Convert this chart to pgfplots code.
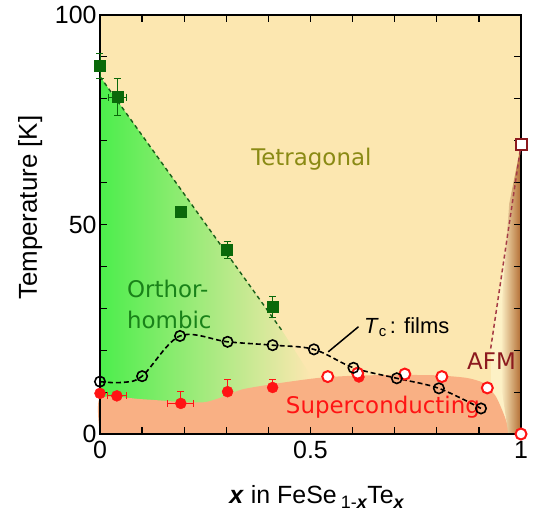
\documentclass[border=0pt]{standalone}
\usepackage{fontspec}
\setmainfont{Liberation Sans}
\newfontfamily\dv{DejaVu Sans}
\usepackage{pgfplots}
\pgfplotsset{compat=1.18}
\definecolor{bgY}{RGB}{252,231,176}
\definecolor{lightY}{RGB}{253,241,198}
\definecolor{salmon}{RGB}{249,176,132}
\definecolor{gL}{RGB}{76,238,76}
\definecolor{gM}{RGB}{150,240,125}
\definecolor{sqG}{RGB}{10,105,10}
\definecolor{dashG}{RGB}{25,95,25}
\definecolor{redM}{RGB}{255,20,20}
\definecolor{afmR}{RGB}{140,25,30}
\definecolor{afmDash}{RGB}{165,60,70}
\definecolor{brownR}{RGB}{178,108,50}
\definecolor{tanC}{RGB}{236,192,125}
\definecolor{oliveT}{RGB}{138,138,20}
\definecolor{orthG}{RGB}{25,130,25}
\pgfplotsset{common/.style={
  scale only axis,
  width=421bp, height=419bp,
  xmin=0, xmax=1, ymin=0, ymax=100,
  clip=false}}
\begin{document}
\begin{tikzpicture}
\begin{axis}[
  common,
  name=ax,
  axis on top,
  axis line style={line width=1.6bp},
  tick style={line width=1.2bp, black},
  tick align=inside,
  major tick length=7bp, minor tick length=7bp,
  xtick={0,0.5,1}, xticklabels={0,0.5,1},
  minor xtick={0.1,0.2,0.3,0.4,0.6,0.7,0.8,0.9},
  ytick={0,50,100}, yticklabels={0,50,100},
  minor ytick={10,20,30,40,60,70,80,90},
  /pgf/number format/assume math mode=true,
  tick label style={font=\fontsize{25}{25}\selectfont},
  xticklabel style={yshift=-4bp},
  ylabel={Temperature [K]},
  ylabel style={font=\fontsize{26}{26}\selectfont, at={(axis description cs:-0.166,0.54)}, rotate=0, anchor=center},
  xlabel={\textbf{\textit{x}} in FeSe\,\raisebox{-5bp}{\fontsize{18}{18}\selectfont 1-\textbf{\textit{x}}}Te\raisebox{-5bp}{\fontsize{18}{18}\selectfont\textbf{\textit{x}}}},
  xlabel style={font=\fontsize{25}{25}\selectfont, at={(axis description cs:0.515,-0.165)}, anchor=base},
]
% background regions
\addplot[draw=none, fill=bgY] coordinates {(0,0) (1,0) (1,100) (0,100)};
\addplot[draw=none, left color=gL, middle color=gM, right color=bgY] coordinates {(0,85.3) (0.435,24.3) (0.5,14) (0.5,0) (0,0)};
\addplot[draw=none, fill=lightY] coordinates {(0.928,20.4) (1,69) (1,0) (0.93,0)};
\addplot[draw=none, fill=salmon, smooth, tension=0.4] coordinates {
 (0,0) (0,8.6) (0.1,8.3) (0.2,7.6) (0.25,7.6) (0.29,8.8) (0.34,10.7) (0.43,12.2) (0.52,13.4) (0.6,13.9) (0.7,14.1) (0.8,14.0) (0.87,13.4) (0.91,12.2) (0.94,9.0) (0.96,4.5) (0.975,0)};
\addplot[draw=none, left color=lightY, middle color=tanC, right color=brownR] coordinates {(0.97,0) (0.952,12) (0.955,32) (0.972,55) (1,69) (1,0)};
\end{axis}
\begin{axis}[common, hide axis]
% boundary lines
\addplot[dashG, line width=1.4bp, dash pattern=on 4bp off 3.5bp] coordinates {(0,85.3) (0.435,24.3)};
\addplot[afmDash, line width=1.5bp, dash pattern=on 4bp off 3bp] coordinates {(0.928,20.4) (1,69)};
% Tc films curve
\addplot[black, line width=1.6bp, dash pattern=on 5bp off 3bp, smooth, tension=0.55] coordinates {
 (0,12.5) (0.05,12.3) (0.10,13.8) (0.19,23.4) (0.303,22.0) (0.41,21.2) (0.508,20.2) (0.602,15.8) (0.705,13.3) (0.805,10.9) (0.905,6.1)};
% green squares
\addplot[only marks, mark=square*, mark size=5.5bp, color=sqG,
  error bars/.cd, x dir=both, x explicit, y dir=both, y explicit,
  error bar style={line width=1bp, sqG}, error mark options={rotate=90, mark size=3.5bp, line width=1bp, sqG}]
 coordinates {(0,87.8) +- (0,3) (0.041,80.4) +- (0.021,4.5) (0.191,53.0) +- (0,0) (0.302,43.9) +- (0,2) (0.41,30.3) +- (0,2.6)};
% red filled circles
\addplot[only marks, mark=*, mark size=5.5bp, color=redM,
  error bars/.cd, x dir=both, x explicit, y dir=plus, y explicit,
  error bar style={line width=1bp, redM}, error mark options={rotate=90, mark size=3.5bp, line width=1bp, redM}]
 coordinates {(0,9.7) +- (0,0) (0.04,9.1) +- (0.023,0) (0.192,7.3) +- (0.031,2.8) (0.303,10.1) +- (0,3.0) (0.41,11.1) +- (0,2.0) (0.615,13.6) +- (0,0)};
% red open circles
\addplot[only marks, mark=*, mark size=5.5bp, mark options={draw=redM, fill=white, line width=2bp}]
 coordinates {(0.541,13.7) (0.612,14.5) (0.724,14.3) (0.812,13.7) (0.92,11.0) (1,0)};
% red open square
\addplot[only marks, mark=square*, mark size=5.5bp, mark options={draw=afmR, fill=white, line width=2bp}]
 coordinates {(1,69)};
% black open circles
\addplot[only marks, mark=o, mark size=5.2bp, mark options={draw=black, line width=1.6bp}]
 coordinates {(0,12.5) (0.10,13.8) (0.19,23.4) (0.303,22.0) (0.41,21.2) (0.508,20.2) (0.602,15.8) (0.705,13.3) (0.805,10.9) (0.905,6.1)};
% pointer line
\addplot[black, line width=1.5bp] coordinates {(0.542,19.6) (0.614,25.6)};
% labels
\node[font=\dv\fontsize{23}{23}\selectfont, text=oliveT, anchor=base, inner sep=0] at (axis cs:0.502,64) {Tetragonal};
\node[font=\dv\fontsize{23}{23}\selectfont, text=orthG, anchor=base west, inner sep=0] at (axis cs:0.064,32.5) {Orthor-};
\node[font=\dv\fontsize{23}{23}\selectfont, text=orthG, anchor=base west, inner sep=0] at (axis cs:0.064,25.1) {hombic};
\node[font=\dv\fontsize{23}{23}\selectfont, text=redM, anchor=base, inner sep=0] at (axis cs:0.672,5.0) {Superconducting};
\node[font=\dv\fontsize{23}{23}\selectfont, text=afmR, anchor=base, inner sep=0] at (axis cs:0.93,15.3) {AFM};
\node[font=\fontsize{22}{22}\selectfont, anchor=base west, inner sep=0] at (axis cs:0.627,24.0) {\textit{T}\raisebox{-3bp}{\fontsize{15}{15}\selectfont c}\,: films};
\end{axis}
\pgfresetboundingbox
\path[use as bounding box] ([shift={(-100bp,-80bp)}]ax.south west) rectangle ([shift={(14bp,15bp)}]ax.north east);
\end{tikzpicture}
\end{document}
